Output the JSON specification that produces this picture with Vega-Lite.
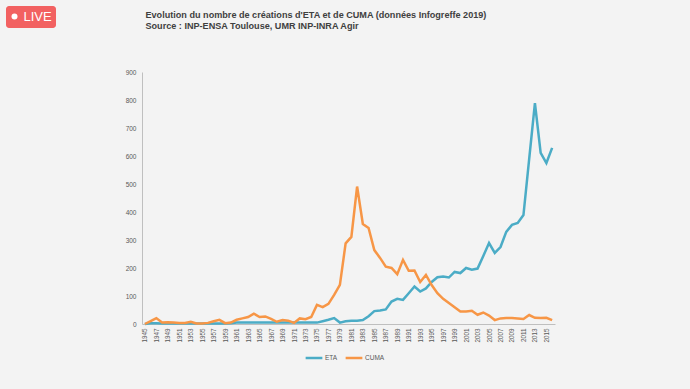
{
  "$schema": "https://vega.github.io/schema/vega-lite/v6.json",
  "background": "#f3f3f3",
  "autosize": {"type": "none"},
  "padding": {"left": 142, "top": 72, "right": 135, "bottom": 65},
  "width": 413,
  "height": 252,
  "config": {"view": {"stroke": null}, "font": "Liberation Sans"},
  "title": {
    "text": ["Evolution du nombre de créations d'ETA et de CUMA (données Infogreffe 2019)", "Source : INP-ENSA Toulouse, UMR INP-INRA Agir"],
    "fontSize": 9.1,
    "fontWeight": "bold",
    "color": "#404040",
    "lineHeight": 11,
    "font": "Liberation Sans",
    "anchor": "start",
    "frame": "group",
    "offset": -25,
    "dx": 3.5
  },
  "layer": [
    {
      "data": {"values": [
        {"annee": 1945, "ETA": 0, "CUMA": 0},
        {"annee": 1946, "ETA": 3, "CUMA": 10},
        {"annee": 1947, "ETA": 3, "CUMA": 21},
        {"annee": 1948, "ETA": 2, "CUMA": 5},
        {"annee": 1949, "ETA": 2, "CUMA": 6},
        {"annee": 1950, "ETA": 2, "CUMA": 5},
        {"annee": 1951, "ETA": 2, "CUMA": 4},
        {"annee": 1952, "ETA": 2, "CUMA": 4},
        {"annee": 1953, "ETA": 2, "CUMA": 8},
        {"annee": 1954, "ETA": 2, "CUMA": 2},
        {"annee": 1955, "ETA": 2, "CUMA": 2},
        {"annee": 1956, "ETA": 2, "CUMA": 4},
        {"annee": 1957, "ETA": 2, "CUMA": 10},
        {"annee": 1958, "ETA": 2, "CUMA": 15},
        {"annee": 1959, "ETA": 2, "CUMA": 3},
        {"annee": 1960, "ETA": 3, "CUMA": 5},
        {"annee": 1961, "ETA": 5, "CUMA": 15},
        {"annee": 1962, "ETA": 5, "CUMA": 20},
        {"annee": 1963, "ETA": 5, "CUMA": 25},
        {"annee": 1964, "ETA": 5, "CUMA": 37},
        {"annee": 1965, "ETA": 5, "CUMA": 25},
        {"annee": 1966, "ETA": 5, "CUMA": 27},
        {"annee": 1967, "ETA": 5, "CUMA": 18},
        {"annee": 1968, "ETA": 5, "CUMA": 8},
        {"annee": 1969, "ETA": 5, "CUMA": 14},
        {"annee": 1970, "ETA": 5, "CUMA": 12},
        {"annee": 1971, "ETA": 5, "CUMA": 4},
        {"annee": 1972, "ETA": 5, "CUMA": 20},
        {"annee": 1973, "ETA": 5, "CUMA": 17},
        {"annee": 1974, "ETA": 5, "CUMA": 25},
        {"annee": 1975, "ETA": 5, "CUMA": 68},
        {"annee": 1976, "ETA": 10, "CUMA": 60},
        {"annee": 1977, "ETA": 15, "CUMA": 72},
        {"annee": 1978, "ETA": 21, "CUMA": 104},
        {"annee": 1979, "ETA": 5, "CUMA": 140},
        {"annee": 1980, "ETA": 10, "CUMA": 288},
        {"annee": 1981, "ETA": 12, "CUMA": 311},
        {"annee": 1982, "ETA": 12, "CUMA": 491},
        {"annee": 1983, "ETA": 14, "CUMA": 357},
        {"annee": 1984, "ETA": 28, "CUMA": 343},
        {"annee": 1985, "ETA": 46, "CUMA": 264},
        {"annee": 1986, "ETA": 48, "CUMA": 236},
        {"annee": 1987, "ETA": 52, "CUMA": 205},
        {"annee": 1988, "ETA": 80, "CUMA": 200},
        {"annee": 1989, "ETA": 90, "CUMA": 178},
        {"annee": 1990, "ETA": 86, "CUMA": 229},
        {"annee": 1991, "ETA": 110, "CUMA": 190},
        {"annee": 1992, "ETA": 134, "CUMA": 191},
        {"annee": 1993, "ETA": 116, "CUMA": 150},
        {"annee": 1994, "ETA": 127, "CUMA": 175},
        {"annee": 1995, "ETA": 150, "CUMA": 139},
        {"annee": 1996, "ETA": 167, "CUMA": 110},
        {"annee": 1997, "ETA": 170, "CUMA": 90},
        {"annee": 1998, "ETA": 166, "CUMA": 75},
        {"annee": 1999, "ETA": 186, "CUMA": 60},
        {"annee": 2000, "ETA": 182, "CUMA": 45},
        {"annee": 2001, "ETA": 200, "CUMA": 45},
        {"annee": 2002, "ETA": 194, "CUMA": 47},
        {"annee": 2003, "ETA": 198, "CUMA": 33},
        {"annee": 2004, "ETA": 243, "CUMA": 41},
        {"annee": 2005, "ETA": 289, "CUMA": 30},
        {"annee": 2006, "ETA": 254, "CUMA": 14},
        {"annee": 2007, "ETA": 275, "CUMA": 20},
        {"annee": 2008, "ETA": 329, "CUMA": 21},
        {"annee": 2009, "ETA": 354, "CUMA": 21},
        {"annee": 2010, "ETA": 361, "CUMA": 20},
        {"annee": 2011, "ETA": 389, "CUMA": 18},
        {"annee": 2012, "ETA": 590, "CUMA": 32},
        {"annee": 2013, "ETA": 789, "CUMA": 22},
        {"annee": 2014, "ETA": 611, "CUMA": 21},
        {"annee": 2015, "ETA": 575, "CUMA": 22},
        {"annee": 2016, "ETA": 629, "CUMA": 14}
      ]},
      "transform": [{"fold": ["ETA", "CUMA"], "as": ["serie", "valeur"]}],
      "mark": {"type": "line", "strokeWidth": 2.5},
      "encoding": {
        "x": {
          "field": "annee",
          "type": "ordinal",
          "scale": {"type": "point", "padding": 0.5},
          "axis": {
            "values": [1945, 1947, 1949, 1951, 1953, 1955, 1957, 1959, 1961, 1963, 1965, 1967, 1969, 1971, 1973, 1975, 1977, 1979, 1981, 1983, 1985, 1987, 1989, 1991, 1993, 1995, 1997, 1999, 2001, 2003, 2005, 2007, 2009, 2011, 2013, 2015],
            "labelAngle": 270,
            "labelFontSize": 6.3,
            "labelColor": "#595959",
            "labelPadding": 4,
            "ticks": false,
            "domainColor": "#bfbfbf",
            "title": null
          }
        },
        "y": {
          "field": "valeur",
          "type": "quantitative",
          "scale": {"domain": [0, 900]},
          "axis": {
            "values": [0, 100, 200, 300, 400, 500, 600, 700, 800, 900],
            "grid": false,
            "ticks": false,
            "domainColor": "#bfbfbf",
            "labelFontSize": 6.5,
            "labelColor": "#595959",
            "labelPadding": 6,
            "title": null
          }
        },
        "color": {
          "field": "serie",
          "type": "nominal",
          "scale": {"domain": ["ETA", "CUMA"], "range": ["#4BACC6", "#F79646"]},
          "legend": {
            "orient": "none",
            "legendX": 162,
            "legendY": 276,
            "padding": 0,
            "direction": "horizontal",
            "gridAlign": "none",
            "title": null,
            "symbolType": "stroke",
            "symbolStrokeWidth": 2.5,
            "symbolSize": 280,
            "labelFontSize": 6.5,
            "labelColor": "#595959",
            "labelOffset": 1,
            "columnPadding": 2
          }
        }
      }
    },
    {
      "data": {"values": [{"etat": "LIVE"}]},
      "mark": {"type": "point", "filled": true, "color": "white", "opacity": 0},
      "encoding": {
        "shape": {
          "field": "etat",
          "type": "nominal",
          "scale": {"range": ["circle"]},
          "legend": {
            "orient": "none",
            "legendX": -136,
            "legendY": -66,
            "padding": 4,
            "fillColor": "#F26161",
            "strokeColor": null,
            "cornerRadius": 3,
            "title": null,
            "symbolSize": 36,
            "symbolOffset": -2,
            "symbolFillColor": "white",
            "symbolStrokeWidth": 0,
            "symbolOpacity": 1,
            "labelColor": "white",
            "labelFontSize": 13,
            "labelOffset": 2.5
          }
        }
      }
    }
  ]
}
